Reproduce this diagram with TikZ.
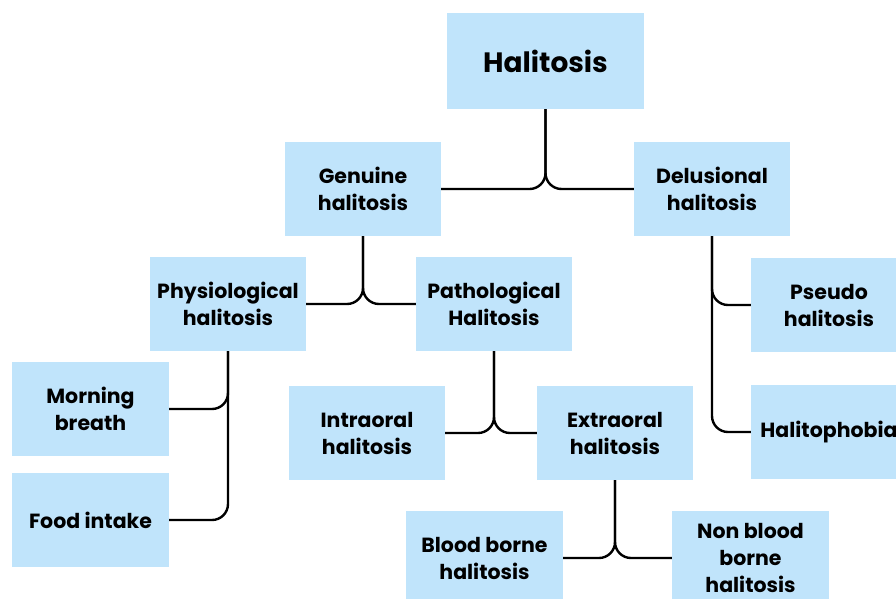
\documentclass[tikz,border=0pt]{standalone}
\usepackage{fontspec}
\setmainfont{Poppins}
\definecolor{boxblue}{RGB}{192,228,251}

\begin{document}
\begin{tikzpicture}[x=1pt, y=-1pt,
    box/.style={fill=boxblue, minimum width=156pt, minimum height=94pt, inner sep=0pt,
        align=center, font=\bfseries\fontsize{20.5}{27}\selectfont},
    fork/.style={line width=2.4pt, rounded corners=16pt}]
    % Fix the page size to the reference
    \useasboundingbox (0,0) rectangle (896,598);
    \clip (0,0) rectangle (896,598);

    % Top node
    \node [box, minimum width=197pt, minimum height=96pt, font=\bfseries\fontsize{28}{32}\selectfont]
        (hal) at (545.5,61) {Halitosis};

    % Second level
    \node [box] (gen) at (363,189) {Genuine\\halitosis};
    \node [box] (del) at (712,189) {Delusional\\halitosis};

    % Third level
    \node [box] (phy) at (228,304) {Physiological\\halitosis};
    \node [box] (pat) at (494,304) {Pathological\\Halitosis};
    \node [box] (pse) at (829,305) {Pseudo\\halitosis};
    \node [box] (pho) at (829,432) {Halitophobia};

    % Fourth level
    \node [box, minimum width=157pt] (mor) at (90.5,409) {Morning\\breath};
    \node [box, minimum width=157pt] (foo) at (90.5,520) {Food intake};
    \node [box] (int) at (367,433) {Intraoral\\halitosis};
    \node [box] (ext) at (615,433) {Extraoral\\halitosis};

    % Fifth level
    \node [box, minimum width=157pt] (blo) at (484.5,558) {Blood borne\\halitosis};
    \node [box, minimum width=157pt] (non) at (750.5,558) {Non blood\\borne\\halitosis};

    % Draw the forks from each parent to its children
    \draw [fork] (gen.east) -| (hal.south);
    \draw [fork] (del.west) -| (hal.south);

    \draw [fork] (phy.east) -| (gen.south);
    \draw [fork] (pat.west) -| (gen.south);

    \draw [fork] (pse.west) -| (del.south);
    \draw [fork] (pho.west) -| (del.south);

    \draw [fork] (mor.east) -| (phy.south);
    \draw [fork] (foo.east) -| (phy.south);

    \draw [fork] (int.east) -| (pat.south);
    \draw [fork] (ext.west) -| (pat.south);

    \draw [fork] (blo.east) -| (ext.south);
    \draw [fork] (non.west) -| (ext.south);

\end{tikzpicture}
\end{document}
